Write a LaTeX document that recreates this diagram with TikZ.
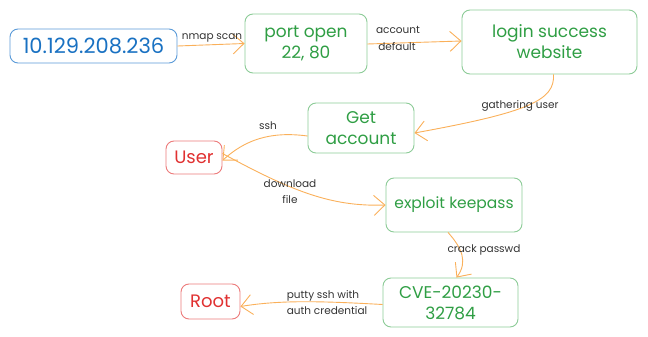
\documentclass[tikz,border=0pt]{standalone}
\usepackage{fontspec}
\setmainfont{Poppins}
\usetikzlibrary{arrows.meta}
\definecolor{gtext}{HTML}{2F9E44}
\definecolor{gline}{HTML}{8CCB97}
\definecolor{btext}{HTML}{1971C2}
\definecolor{bline}{HTML}{5A9AD8}
\definecolor{rtext}{HTML}{E03131}
\definecolor{rline}{HTML}{EC7B7B}
\definecolor{flow}{HTML}{FAB05A}
\definecolor{lbl}{HTML}{333333}
\tikzset{
  box/.style={draw, rounded corners=8pt, line width=0.9pt, align=center, inner sep=0pt},
  gbox/.style={box, draw=gline, text=gtext, font=\fontsize{17}{21}\selectfont},
  bbox/.style={box, draw=bline, text=btext, font=\fontsize{21}{23}\selectfont},
  rbox/.style={box, draw=rline, text=rtext, font=\fontsize{18}{20}\selectfont},
  flowline/.style={draw=flow, line width=0.9pt, -{Straight Barb[length=11pt,width=20pt,line width=0.9pt]}},
  lab/.style={text=lbl, font=\fontsize{10.5}{16}\selectfont, align=left, inner sep=0pt}
}
\begin{document}
\begin{tikzpicture}[x=1pt,y=-1pt]
\useasboundingbox (0,0) rectangle (648,337);
% stages
\node[bbox, minimum width=167pt, minimum height=34pt] (ip) at (93.5,46) {10.129.208.236};
\node[gbox, minimum width=122pt, minimum height=59pt] (port) at (306,43.5) {port open\\22, 80};
\node[gbox, minimum width=175pt, minimum height=64pt] (login) at (549.5,42) {login success\\website};
\node[gbox, minimum width=106pt, minimum height=50pt] (acct) at (361,128) {Get\\account};
\node[rbox, minimum width=56pt, minimum height=33pt] (user) at (194,157.5) {User};
\node[gbox, minimum width=136pt, minimum height=54pt, font=\fontsize{15.5}{19}\selectfont] (keep) at (454,205) {exploit keepass};
\node[gbox, minimum width=135pt, minimum height=49pt] (cve) at (450.5,302.5) {CVE-20230-\\32784};
\node[rbox, minimum width=59pt, minimum height=35pt] (root) at (210.5,301.5) {Root};
% connectors
\draw[flowline] (ip.east) -- (port.west);
\node[lab] (l1) at (212,38) {nmap scan};
\draw[flowline] ([yshift=-0.5pt]port.east) -- ([yshift=1pt]login.west);
\node[lab] (l2) at (398,30) {account};
\node[lab] (l3) at (397,47) {default};
\draw[flowline] ([xshift=4pt]login.south) .. controls (555,100) and (530,112) .. ([yshift=-5pt]acct.east);
\node[lab] (l4) at (520,106) {gathering user};
\draw[flowline] ([yshift=-8pt]acct.west) .. controls (270,131) and (245,140) .. ([yshift=-3pt]user.east);
\node[lab] (l5) at (268,126) {ssh};
\draw[flowline] ([yshift=4pt]user.east) .. controls (290,190) and (330,207) .. (keep.west);
\node[lab, align=center] (l6) at (290,192) {download\\file};
\draw[flowline] ([xshift=-6pt]keep.south) .. controls (462,248) and (468,262) .. ([xshift=6pt]cve.north);
\node[lab] (l7) at (484,250) {crack passwd};
\draw[flowline] ([yshift=-2pt]cve.west) .. controls (320,301) and (280,300) .. ([yshift=-5pt]root.east);
\node[lab, align=left] (l8) at (327,303) {putty ssh with\\auth credential};
\end{tikzpicture}
\end{document}
